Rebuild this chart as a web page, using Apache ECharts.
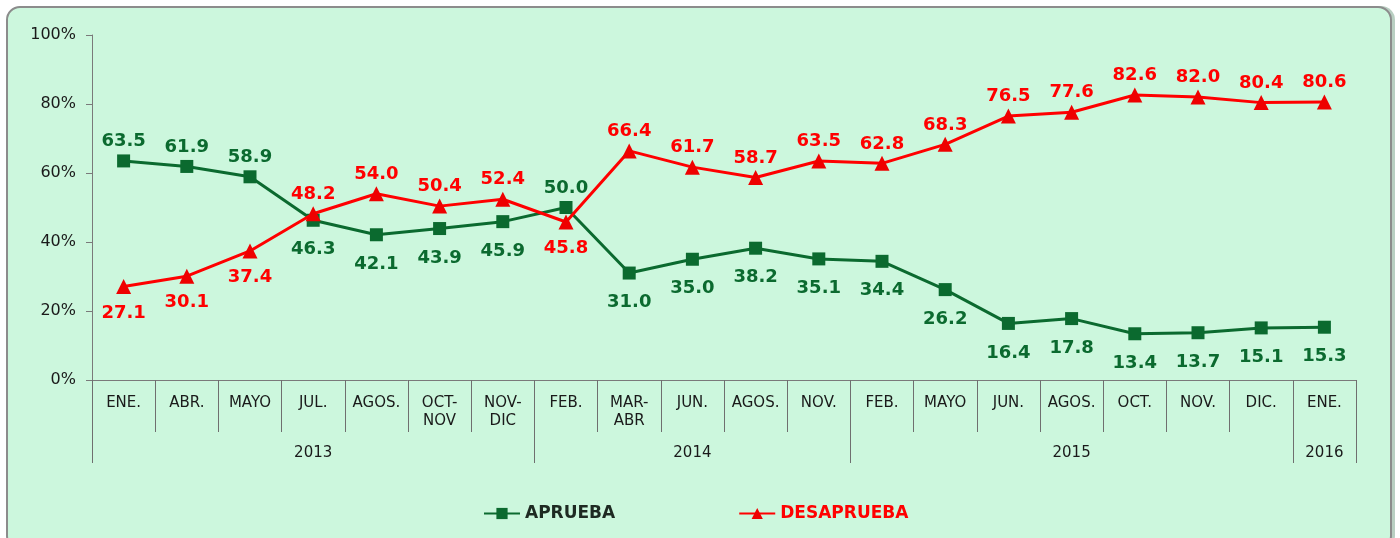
<!DOCTYPE html>
<html>
<head>
<meta charset="utf-8">
<script src="https://cdn.jsdelivr.net/npm/echarts@6/dist/echarts.min.js"></script>
<style>
  html, body { margin: 0; padding: 0; background: #ffffff; }
  #frame {
    position: absolute; left: 6px; top: 6px; width: 1382px; height: 540px;
    border: 2px solid #8c8c8c; border-radius: 14px; background: #ccf7dd;
    box-shadow: 3px 0 0 #b9cfc2;
  }
  #chart { position: absolute; left: 0; top: 0; width: 1400px; height: 538px; }
</style>
</head>
<body>
<div id="frame"></div>
<div id="chart"></div>
<script>
// meses de cada medición
var months = ['ENE.', 'ABR.', 'MAYO', 'JUL.', 'AGOS.', 'OCT-\nNOV', 'NOV-\nDIC',
  'FEB.', 'MAR-\nABR', 'JUN.', 'AGOS.', 'NOV.',
  'FEB.', 'MAYO', 'JUN.', 'AGOS.', 'OCT.', 'NOV.', 'DIC.',
  'ENE.'];
var years = ['2013', '2014', '2015', '2016'];
var yearSpans = [7, 5, 7, 1];

var aprueba = [63.5, 61.9, 58.9, 46.3, 42.1, 43.9, 45.9,
  50.0, 31.0, 35.0, 38.2, 35.1,
  34.4, 26.2, 16.4, 17.8, 13.4, 13.7, 15.1,
  15.3];
var desaprueba = [27.1, 30.1, 37.4, 48.2, 54.0, 50.4, 52.4,
  45.8, 66.4, 61.7, 58.7, 63.5,
  62.8, 68.3, 76.5, 77.6, 82.6, 82.0, 80.4,
  80.6];

var yTicks = [0, 20, 40, 60, 80, 100];

var GREEN = '#0b6a2f';
var RED = '#ff0000';
var FONT = 'DejaVu Sans';

// etiqueta de año centrada en su grupo, divisiones al inicio de cada año
var yearLabels = [];
var yearStarts = [];
var pos = 0;
years.forEach(function(y, i) {
  yearStarts.push(pos);
  for (var k = 0; k < yearSpans[i]; k++) {
    yearLabels.push(k === Math.floor(yearSpans[i] / 2) ? y : '');
  }
  pos += yearSpans[i];
});

// etiqueta arriba si la serie va por encima de la otra
function points(values, other, upDist, downDist) {
  return values.map(function(v, i) {
    var up = v > other[i];
    return {
      value: v,
      label: {position: up ? 'top' : 'bottom', distance: up ? upDist : downDist},
    };
  });
}

var chart = echarts.init(document.getElementById('chart'));
chart.setOption({
  backgroundColor: 'transparent',
  animation: false,
  grid: {left: 92, right: 44, top: 35, bottom: 158},
  legend: {
    left: 478,
    top: 500,
    itemGap: 123,
    itemWidth: 36,
    itemHeight: 14,
    textStyle: {fontFamily: FONT, fontWeight: 'bold', fontSize: 17},
    data: [
      {name: 'APRUEBA', textStyle: {color: '#1e2a22'}},
      {name: 'DESAPRUEBA', textStyle: {color: RED}},
    ],
  },
  xAxis: [
    {
      type: 'category',
      data: months,
      position: 'bottom',
      boundaryGap: true,
      axisLine: {show: true, lineStyle: {color: '#7a7a7a', width: 1}},
      axisTick: {show: true, length: 52, interval: 0, lineStyle: {color: '#6f6f6f', width: 1}},
      axisLabel: {
        interval: 0, margin: 14, color: '#1a1a1a', fontFamily: FONT,
        fontSize: 15, lineHeight: 18,
      },
    },
    {
      type: 'category',
      data: months,
      position: 'bottom',
      boundaryGap: true,
      axisLine: {show: false},
      axisTick: {
        show: true,
        length: 83,
        lineStyle: {color: '#6f6f6f', width: 1},
        interval: function(idx) {
          return yearStarts.indexOf(idx) >= 0;
        },
      },
      axisLabel: {
        interval: 0, margin: 64, color: '#1a1a1a', fontFamily: FONT,
        fontSize: 15, lineHeight: 18,
        formatter: function(val, idx) {
          return yearLabels[idx];
        },
      },
    },
  ],
  yAxis: {
    type: 'value',
    min: 0,
    max: 100,
    interval: 20,
    axisLine: {show: true, lineStyle: {color: '#7a7a7a'}},
    axisTick: {show: true, length: 6, lineStyle: {color: '#7a7a7a'}},
    splitLine: {show: false},
    axisLabel: {
      margin: 16, color: '#1a1a1a', fontFamily: FONT, fontSize: 16,
      formatter: function(v) {
        return yTicks.indexOf(v) >= 0 ? v + '%' : '';
      },
    },
  },
  series: [
    {
      name: 'APRUEBA',
      type: 'line',
      data: points(aprueba, desaprueba, 4, 14),
      symbol: 'rect',
      symbolSize: 13,
      itemStyle: {color: GREEN},
      lineStyle: {color: GREEN, width: 3},
      label: {
        show: true, color: GREEN, fontFamily: FONT, fontWeight: 'bold',
        fontSize: 18,
        formatter: function(p) { return p.value.toFixed(1); },
      },
      z: 3,
    },
    {
      name: 'DESAPRUEBA',
      type: 'line',
      data: points(desaprueba, aprueba, 3, 10),
      symbol: 'triangle',
      symbolSize: 15,
      itemStyle: {color: '#ee0000'},
      lineStyle: {color: RED, width: 3},
      label: {
        show: true, color: RED, fontFamily: FONT, fontWeight: 'bold',
        fontSize: 18,
        formatter: function(p) { return p.value.toFixed(1); },
      },
      z: 4,
    },
  ],
});
</script>
</body>
</html>
